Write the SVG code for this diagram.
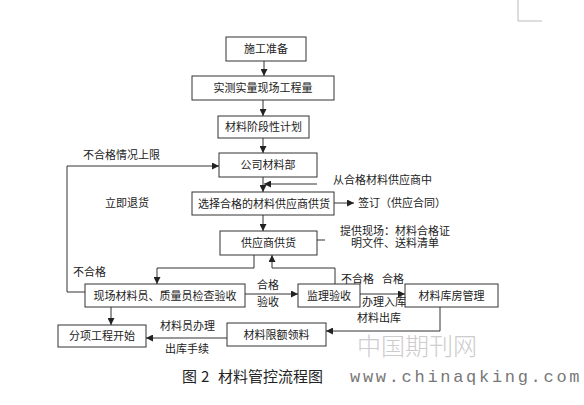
<svg xmlns="http://www.w3.org/2000/svg" width="584" height="405" viewBox="0 0 584 405">
<style>
.box{fill:#fff;stroke:#333;stroke-width:1}
.t{font-family:"Liberation Sans","Noto Sans CJK SC",sans-serif;font-size:11px;fill:#222;text-anchor:middle;dominant-baseline:central}
.l{font-family:"Liberation Sans","Noto Sans CJK SC",sans-serif;font-size:11px;fill:#222;dominant-baseline:central}
.c{fill:none;stroke:#333;stroke-width:1}
</style>
<defs>
<marker id="ah" viewBox="0 0 8 8" refX="8" refY="4" markerWidth="7" markerHeight="7" markerUnits="userSpaceOnUse" orient="auto">
<path d="M0,0 L8,4 L0,8 Z" fill="#222"/>
</marker>
</defs>
<rect width="584" height="405" fill="#fff"/>
<path d="M518,0 V21 H542" fill="none" stroke="#bbb" stroke-width="1"/>
<g id="n1"><rect class="box" x="226" y="37" width="80" height="24"/><text class="t" x="266" y="49">施工准备</text></g>
<g id="n2"><rect class="box" x="192" y="76" width="142" height="24"/><text class="t" x="263" y="88">实测实量现场工程量</text></g>
<g id="n3"><rect class="box" x="218" y="116" width="91" height="22"/><text class="t" x="263.5" y="127">材料阶段性计划</text></g>
<g id="n4"><rect class="box" x="219" y="153" width="98" height="24"/><text class="t" x="268" y="165">公司材料部</text></g>
<g id="n6"><rect class="box" x="192" y="192" width="142" height="23"/><text class="t" x="264" y="203.5">选择合格的材料供应商供货</text></g>
<g id="n7"><rect class="box" x="220" y="231" width="97" height="24"/><text class="t" x="268.5" y="243">供应商供货</text></g>
<g id="n5"><rect class="box" x="85" y="284" width="160" height="23"/><text class="t" x="165" y="295.5">现场材料员、质量员检查验收</text></g>
<g id="n8"><rect class="box" x="298" y="284" width="62" height="23"/><text class="t" x="329" y="295.5">监理验收</text></g>
<g id="n9"><rect class="box" x="405" y="284" width="93" height="23"/><text class="t" x="451.5" y="295.5">材料库房管理</text></g>
<g id="n10"><rect class="box" x="227" y="323" width="99" height="23"/><text class="t" x="276.5" y="334.5">材料限额领料</text></g>
<g id="n11"><rect class="box" x="58" y="325" width="88" height="22"/><text class="t" x="102" y="336">分项工程开始</text></g>
<g id="connectors">
<path class="c" d="M264,61 V76" marker-end="url(#ah)"/>
<path class="c" d="M263,100 V116" marker-end="url(#ah)"/>
<path class="c" d="M263,138 V153" marker-end="url(#ah)"/>
<path class="c" d="M263,177 V192" marker-end="url(#ah)"/>
<path class="c" d="M317,184 H264" marker-end="url(#ah)"/>
<path class="c" d="M334,203 H354" marker-end="url(#ah)"/>
<path class="c" d="M263,215 V231" marker-end="url(#ah)"/>
<path class="c" d="M317,240 H325"/>
<path class="c" d="M254,255 V268 H157 V284" marker-end="url(#ah)"/>
<path class="c" d="M335,284 V268 H272 V255" marker-end="url(#ah)"/>
<path class="c" d="M245,294 H298" marker-end="url(#ah)"/>
<path class="c" d="M360,294 H405" marker-end="url(#ah)"/>
<path class="c" d="M440,307 V331 H326" marker-end="url(#ah)"/>
<path class="c" d="M227,338 H146" marker-end="url(#ah)"/>
<path class="c" d="M111,307 V325" marker-end="url(#ah)"/>
<path class="c" d="M85,292 H67 V166 H219" marker-end="url(#ah)"/>
</g>
<g id="labels">
<text class="l" x="83" y="155">不合格情况上限</text>
<text class="l" x="105" y="203">立即退货</text>
<text class="l" x="333" y="180">从合格材料供应商中</text>
<text class="l" x="358" y="203">签订（供应合同）</text>
<text class="t" x="395" y="231">提供现场：材料合格证</text>
<text class="t" x="395" y="243">明文件、送料清单</text>
<text class="l" x="73" y="272">不合格</text>
<text class="l" x="257" y="285">合格</text>
<text class="l" x="257" y="302">验收</text>
<text class="l" x="341" y="279">不合格</text>
<text class="l" x="382" y="279">合格</text>
<text class="l" x="362" y="302">办理入库</text>
<text class="l" x="357" y="318">材料出库</text>
<text class="l" x="160" y="326">材料员办理</text>
<text class="l" x="165" y="349">出库手续</text>
</g>
<text x="357" y="355" font-family="'Noto Sans CJK SC',sans-serif" font-size="24" font-weight="300" fill="#cccccc">中国期刊网</text>
<text y="382" font-family="'Noto Sans CJK SC',sans-serif" font-size="15" fill="#222"><tspan x="182">图</tspan><tspan x="201">2</tspan><tspan x="218">材料管控流程图</tspan></text>
<text x="350" y="382" font-family="'Liberation Mono',monospace" font-size="17" letter-spacing="2.7" fill="#777">www.chinaqking.com</text>
</svg>
